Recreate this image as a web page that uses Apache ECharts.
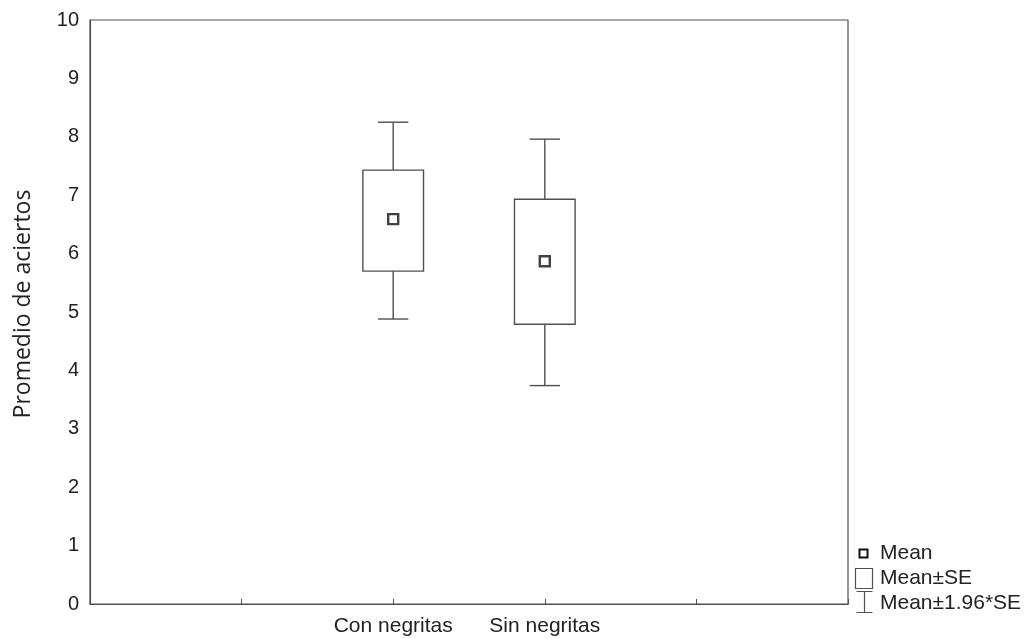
<!DOCTYPE html>
<html>
<head>
<meta charset="utf-8">
<script src="https://cdn.jsdelivr.net/npm/echarts@6/dist/echarts.min.js"></script>
<style>
html,body{margin:0;padding:0;background:#fff;}
#chart{width:1027px;height:639px;}
</style>
</head>
<body>
<div id="chart"></div>
<script>
// x-axis slots (groups sit at the 3rd and 4th tick)
const categories = ['', ' ', 'Con negritas', 'Sin negritas', '  ', '   '];
const groups = ['Con negritas', 'Sin negritas'];
const means = [6.59, 5.87];
const seLow = [5.70, 4.79];
const seHigh = [7.43, 6.93];
const ciLow = [4.88, 3.74];
const ciHigh = [8.25, 7.96];
const yTicks = [0, 1, 2, 3, 4, 5, 6, 7, 8, 9, 10];
const yTitle = 'Promedio de aciertos';
const legendNames = ['Mean', 'Mean±SE', 'Mean±1.96*SE'];

const lineColor = '#505050';
const chart = echarts.init(document.getElementById('chart'));

const boxData = groups.map((g, i) => [g, seLow[i], seHigh[i]]);
const whiskerData = groups.map((g, i) => [g, ciLow[i], ciHigh[i], seLow[i], seHigh[i]]);
const meanData = groups.map((g, i) => [g, means[i]]);

const font = 'Liberation Sans';

chart.setOption({
  animation: false,
  grid: { left: 90, right: 179, top: 20, bottom: 35, show: true, borderColor: lineColor, borderWidth: 1.2, backgroundColor: '#fff', containLabel: false, outerBoundsMode: 'none' },
  xAxis: {
    type: 'category',
    data: categories,
    boundaryGap: false,
    axisLine: { lineStyle: { color: lineColor, width: 1.2 } },
    axisTick: { inside: true, length: 5, lineStyle: { color: lineColor } },
    axisLabel: { color: '#222', fontFamily: font, fontSize: 21, margin: 12, interval: 0 },
    splitLine: { show: false }
  },
  yAxis: {
    type: 'value',
    min: yTicks[0],
    max: yTicks[yTicks.length - 1],
    interval: 1,
    axisLine: { show: true, lineStyle: { color: lineColor, width: 1.2 } },
    axisTick: { show: false },
    axisLabel: { color: '#222', fontFamily: font, fontSize: 20, margin: 11 },
    splitLine: { show: false }
  },
  series: [
    {
      name: legendNames[2],
      type: 'custom',
      data: whiskerData,
      renderItem: function (params, api) {
        const x = api.value(0);
        const lo = api.coord([x, api.value(1)]);
        const hi = api.coord([x, api.value(2)]);
        const bLo = api.coord([x, api.value(3)]);
        const bHi = api.coord([x, api.value(4)]);
        const cap = api.size([1, 0])[0] * 0.2 / 2;
        const style = { stroke: lineColor, lineWidth: 1.4, fill: null };
        return {
          type: 'group',
          children: [
            { type: 'line', shape: { x1: hi[0], y1: hi[1], x2: bHi[0], y2: bHi[1] }, style: style },
            { type: 'line', shape: { x1: lo[0], y1: lo[1], x2: bLo[0], y2: bLo[1] }, style: style },
            { type: 'line', shape: { x1: hi[0] - cap, y1: hi[1], x2: hi[0] + cap, y2: hi[1] }, style: style },
            { type: 'line', shape: { x1: lo[0] - cap, y1: lo[1], x2: lo[0] + cap, y2: lo[1] }, style: style }
          ]
        };
      }
    },
    {
      name: legendNames[1],
      type: 'custom',
      data: boxData,
      renderItem: function (params, api) {
        const x = api.value(0);
        const lo = api.coord([x, api.value(1)]);
        const hi = api.coord([x, api.value(2)]);
        const w = api.size([1, 0])[0] * 0.4;
        return {
          type: 'rect',
          shape: { x: lo[0] - w / 2, y: hi[1], width: w, height: lo[1] - hi[1] },
          style: { stroke: lineColor, lineWidth: 1.4, fill: '#fff' }
        };
      }
    },
    {
      name: legendNames[0],
      type: 'scatter',
      data: meanData,
      symbol: 'rect',
      symbolSize: 10,
      itemStyle: { color: '#fff', borderColor: '#111', borderWidth: 2.4 },
      z: 5
    }
  ],
  graphic: [
    { type: 'text', x: 23, y: 304, rotation: Math.PI / 2, style: { text: yTitle, fontFamily: 'Open Sans', fontSize: 23, fill: '#222', align: 'center', verticalAlign: 'middle' } },
    { type: 'rect', x: 859.5, y: 549.5, shape: { width: 8, height: 8 }, style: { fill: '#fff', stroke: '#111', lineWidth: 2 } },
    { type: 'text', x: 880, y: 553, style: { text: legendNames[0], fontFamily: font, fontSize: 21, fill: '#222', verticalAlign: 'middle' } },
    { type: 'rect', x: 855.5, y: 568.5, shape: { width: 17, height: 20 }, style: { fill: '#fff', stroke: lineColor, lineWidth: 1.2 } },
    { type: 'text', x: 880, y: 578, style: { text: legendNames[1], fontFamily: font, fontSize: 21, fill: '#222', verticalAlign: 'middle' } },
    { type: 'polyline', x: 856.5, y: 591.5, shape: { points: [[0,0],[16,0],[8,0],[8,21],[0,21],[16,21]] }, style: { stroke: lineColor, lineWidth: 1.2, fill: null } },
    { type: 'text', x: 880, y: 603, style: { text: legendNames[2], fontFamily: font, fontSize: 21, fill: '#222', verticalAlign: 'middle' } }
  ]
});
</script>
</body>
</html>
